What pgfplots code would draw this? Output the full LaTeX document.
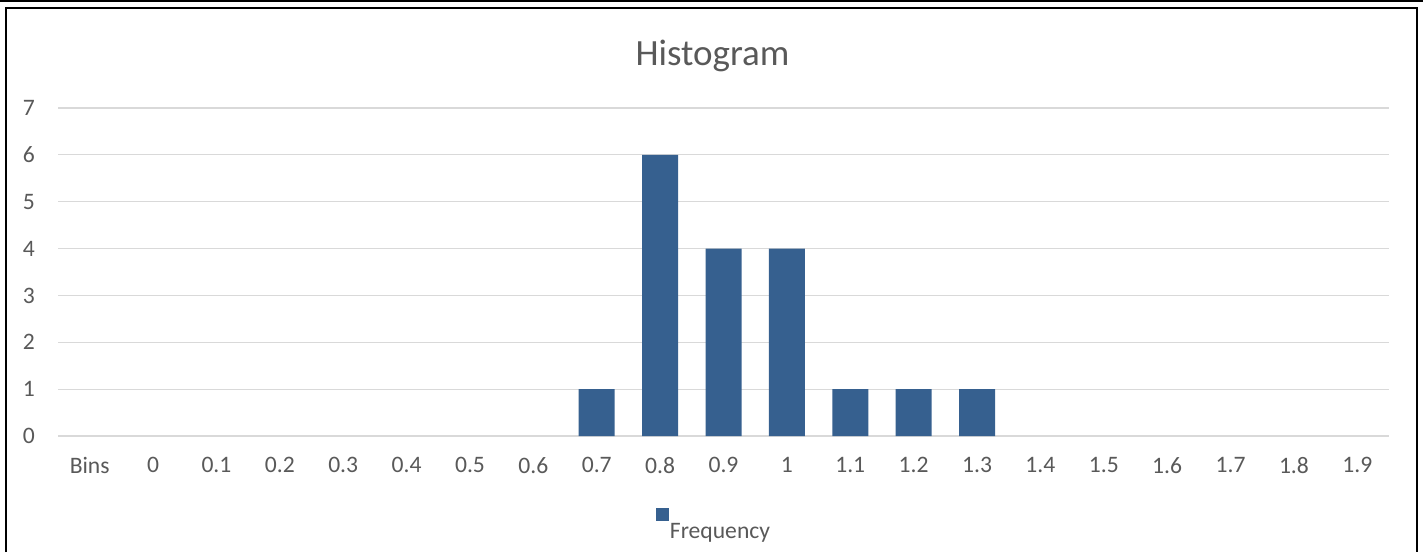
\documentclass[border=0pt]{standalone}
\usepackage{pgfplots}
\pgfplotsset{compat=1.18}
\usepackage{fontspec}
\setmainfont{Carlito}
\definecolor{barblue}{HTML}{36608F}
\definecolor{txtgray}{HTML}{595959}
\definecolor{gridgray}{HTML}{D9D9D9}
\begin{document}
\begin{tikzpicture}
\useasboundingbox (0,0) rectangle (711.5pt,276pt);
% frames
\draw[line width=1pt] (0,275.5pt) -- (711.5pt,275.5pt);
\draw[line width=1pt] (3pt,0) -- (3pt,272pt) -- (708.5pt,272pt) -- (708.5pt,0);
\begin{axis}[
    at={(29pt,58pt)}, anchor=south west,
    width=665.5pt, height=164pt, scale only axis,
    ybar, bar width=18pt, bar shift=0pt,
    xmin=-0.5, xmax=20.5, ymin=0, ymax=7,
    xtick={0,...,20},
    xticklabels={Bins,0,0.1,0.2,0.3,0.4,0.5,0.6,0.7,0.8,0.9,1,1.1,1.2,1.3,1.4,1.5,1.6,1.7,1.8,1.9},
    ytick={0,...,7},
    /pgf/number format/assume math mode=true,
    axis line style={draw=none},
    major tick length=0pt,
    ymajorgrids, grid style={gridgray, line width=0.6pt},
    tick label style={font=\fontsize{11.8}{14}\selectfont, text=txtgray},
    yticklabel style={xshift=-8pt},
    xticklabel style={yshift=-7pt},
    title={Histogram},
    title style={at={(0.5,1)}, anchor=base, yshift=15pt, xshift=-5.5pt, font=\fontsize{18.5}{22}\selectfont, text=txtgray},
    legend style={at={(0.5,0)}, anchor=north, yshift=-34pt, xshift=-5pt, draw=none, fill=none,
        font=\fontsize{11.8}{14}\selectfont, text=txtgray, nodes={inner xsep=0.5pt}},
    legend image code/.code={\fill[barblue] (0.5pt,5.5pt) rectangle (7pt,12pt);},
]
\addplot[fill=barblue, draw=none] coordinates {
    (8,1) (9,6) (10,4) (11,4) (12,1) (13,1) (14,1)};
\addlegendentry{Frequency}
\end{axis}
\end{tikzpicture}
\end{document}
